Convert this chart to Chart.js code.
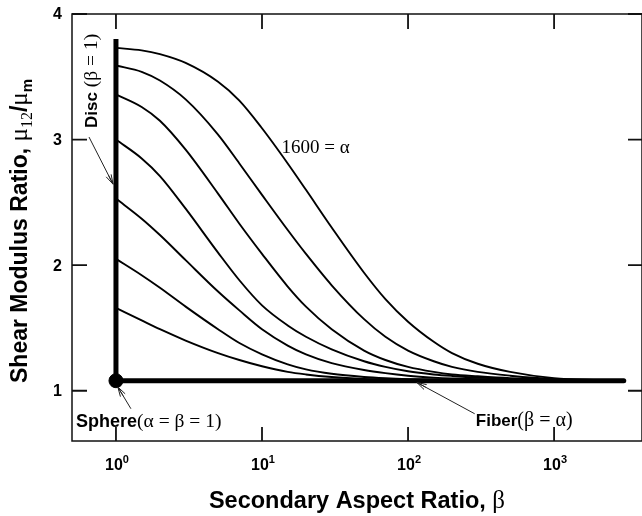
<!DOCTYPE html>
<html>
<head>
<meta charset="utf-8">
<script src="https://cdn.jsdelivr.net/npm/chart.js@4/dist/chart.umd.min.js"></script>
<style>
  html, body { margin: 0; padding: 0; background: #fff; overflow: hidden; width: 642px; height: 516px; }
  #wrap { position: relative; width: 650px; height: 516px; }
</style>
</head>
<body>
<div id="wrap"><canvas id="c" width="650" height="516"></canvas></div>
<script>
// Secondary aspect ratio (beta) sampling points shared by every curve
const betaGrid = [1, 1.5, 2, 3, 5, 7, 10, 15, 20, 30, 50, 70, 100, 150, 200, 300, 500, 1000, 2000, 3000];

// Shear modulus ratio mu12/mu_m, one curve per primary aspect ratio (top = 1600)
const curveA = [3.73, 3.71, 3.68, 3.61, 3.46, 3.31, 3.09, 2.81, 2.60, 2.30, 1.94, 1.73, 1.55, 1.39, 1.30, 1.215, 1.15, 1.10, 1.085, 1.08];
const curveB = [3.59, 3.54, 3.47, 3.32, 3.04, 2.81, 2.56, 2.28, 2.09, 1.84, 1.57, 1.43, 1.32, 1.235, 1.19, 1.15, 1.12, 1.093, 1.085, 1.08];
const curveC = [3.36, 3.26, 3.15, 2.92, 2.57, 2.33, 2.09, 1.83, 1.67, 1.49, 1.32, 1.245, 1.19, 1.15, 1.13, 1.115, 1.10, 1.09, 1.083, 1.08];
const curveD = [3.00, 2.85, 2.71, 2.45, 2.10, 1.88, 1.68, 1.52, 1.43, 1.33, 1.235, 1.19, 1.155, 1.13, 1.118, 1.105, 1.095, 1.087, 1.082, 1.08];
const curveE = [2.53, 2.37, 2.24, 2.04, 1.79, 1.64, 1.49, 1.36, 1.29, 1.22, 1.165, 1.14, 1.12, 1.105, 1.098, 1.092, 1.087, 1.083, 1.081, 1.08];
const curveF = [2.05, 1.92, 1.82, 1.67, 1.49, 1.38, 1.29, 1.21, 1.17, 1.135, 1.11, 1.10, 1.093, 1.088, 1.085, 1.083, 1.082, 1.081, 1.08, 1.08];
const curveG = [1.66, 1.56, 1.49, 1.40, 1.30, 1.245, 1.195, 1.15, 1.13, 1.11, 1.095, 1.09, 1.087, 1.085, 1.083, 1.082, 1.081, 1.08, 1.08, 1.08];

// Limiting cases
const sphereValue = 1.08;               // alpha = beta = 1
const discBeta = [1, 1];                // beta = 1 edge
const discValue = [1.08, 3.80];
const fiberBeta = [1, 3000];            // beta = alpha edge
const fiberValue = [1.08, 1.08];

// Axis ticks
const xTicks = [1, 10, 100, 1000];
const xTickExp = ['0', '1', '2', '3'];
const yTicks = [1, 2, 3, 4];

const BOLD = (s) => `bold ${s}px "Liberation Sans", Arial, Helvetica, sans-serif`;
const SERIF = (s) => `${s}px "Liberation Serif", "Times New Roman", serif`;

const pts = (xs, ys) => xs.map((x, i) => ({ x, y: ys[i] }));

const curveSet = [curveA, curveB, curveC, curveD, curveE, curveF, curveG].map((c) => ({
  data: pts(betaGrid, c),
  borderColor: '#000',
  borderWidth: 1.9,
  pointRadius: 0,
  fill: false,
  cubicInterpolationMode: 'monotone',
  order: 3
}));

function drawRuns(ctx, x, y, parts) {
  for (const p of parts) {
    ctx.font = p.font;
    ctx.fillText(p.t, x, y + (p.dy || 0));
    x += ctx.measureText(p.t).width;
  }
  return x;
}
function runsWidth(ctx, parts) {
  let w = 0;
  for (const p of parts) { ctx.font = p.font; w += ctx.measureText(p.t).width; }
  return w;
}
function arrow(ctx, x0, y0, x1, y1) {
  ctx.save();
  ctx.strokeStyle = '#222';
  ctx.lineWidth = 1;
  ctx.beginPath();
  ctx.moveTo(x0, y0);
  ctx.lineTo(x1, y1);
  const a = Math.atan2(y1 - y0, x1 - x0);
  const L = 10, s = 0.28;
  for (const d of [-s, 0, s]) {
    ctx.moveTo(x1, y1);
    ctx.lineTo(x1 - L * Math.cos(a + d), y1 - L * Math.sin(a + d));
  }
  ctx.stroke();
  ctx.restore();
}

const decorations = {
  id: 'decorations',
  afterDraw(chart) {
    const { ctx, chartArea: ca } = chart;
    const xs = chart.scales.x, ys = chart.scales.y;
    const X = (v) => xs.getPixelForValue(v), Y = (v) => ys.getPixelForValue(v);
    ctx.save();
    ctx.fillStyle = '#000';
    ctx.strokeStyle = '#111';

    // frame
    ctx.lineWidth = 1.5;
    ctx.strokeRect(ca.left, ca.top, ca.right - ca.left, ca.bottom - ca.top);

    // inward ticks
    ctx.lineWidth = 1.8;
    ctx.beginPath();
    for (const v of xTicks) {
      const px = X(v);
      ctx.moveTo(px, ca.bottom); ctx.lineTo(px, ca.bottom - 14);
      ctx.moveTo(px, ca.top); ctx.lineTo(px, ca.top + 15);
    }
    for (const v of yTicks) {
      const py = Y(v);
      ctx.moveTo(ca.left, py); ctx.lineTo(ca.left + 15, py);
      ctx.moveTo(ca.right, py); ctx.lineTo(ca.right - 14, py);
    }
    ctx.stroke();

    // y tick labels
    ctx.font = BOLD(16);
    ctx.textAlign = 'right';
    ctx.textBaseline = 'middle';
    for (const v of yTicks) ctx.fillText(String(v), ca.left - 10, Y(v) + 1);

    // x tick labels with superscript exponents
    ctx.textAlign = 'left';
    ctx.textBaseline = 'alphabetic';
    xTicks.forEach((v, i) => {
      const parts = [{ t: '10', font: BOLD(16) }, { t: xTickExp[i], font: BOLD(11), dy: -7 }];
      const w = runsWidth(ctx, parts);
      drawRuns(ctx, X(v) - w / 2 + 1, ca.bottom + 29, parts);
    });

    // x axis title
    {
      const parts = [{ t: 'Secondary Aspect Ratio, ', font: BOLD(23.5) }, { t: 'β', font: SERIF(25) }];
      const w = runsWidth(ctx, parts);
      drawRuns(ctx, (ca.left + ca.right) / 2 - w / 2, ca.bottom + 67, parts);
    }

    // y axis title (rotated)
    ctx.save();
    ctx.translate(27, 383);
    ctx.rotate(-Math.PI / 2);
    drawRuns(ctx, 0, 0, [
      { t: 'Shear Modulus Ratio, ', font: BOLD(23) },
      { t: 'μ', font: SERIF(25) },
      { t: '12', font: SERIF(16), dy: 5 },
      { t: '/', font: BOLD(23) },
      { t: 'μ', font: SERIF(25) },
      { t: 'm', font: BOLD(15), dy: 5 }
    ]);
    ctx.restore();

    // curve label
    drawRuns(ctx, X(13.6), Y(2.894), [{ t: '1600 = α', font: SERIF(19) }]);

    // Disc label (rotated) and arrow
    ctx.save();
    ctx.translate(X(0.742), Y(3.093));
    ctx.rotate(-Math.PI / 2);
    drawRuns(ctx, 0, 0, [{ t: 'Disc ', font: BOLD(17) }, { t: '(β = 1)', font: SERIF(19.5) }]);
    ctx.restore();
    arrow(ctx, X(0.654), Y(3.02), X(0.955), Y(2.645));

    // Sphere label and arrow
    drawRuns(ctx, X(0.533), Y(0.714), [{ t: 'Sphere', font: BOLD(18) }, { t: '(α = β = 1)', font: SERIF(19.5) }]);
    arrow(ctx, X(1.266), Y(0.857), X(1.03), Y(1.03));

    // Fiber label and arrow
    drawRuns(ctx, X(291), Y(0.72), [{ t: 'Fiber', font: BOLD(17) }, { t: '(β = α)', font: SERIF(20) }]);
    arrow(ctx, X(286), Y(0.817), X(115), Y(1.066));

    ctx.restore();
  }
};

new Chart(document.getElementById('c'), {
  type: 'line',
  data: {
    datasets: [
      { data: pts([1], [sphereValue]), showLine: false, pointRadius: 7, pointBackgroundColor: '#000', pointBorderColor: '#000', order: 0 },
      { data: pts(discBeta, discValue), borderColor: '#000', borderWidth: 5, pointRadius: 0, borderCapStyle: 'butt', order: 1 },
      { data: pts(fiberBeta, fiberValue), borderColor: '#000', borderWidth: 5, pointRadius: 0, borderCapStyle: 'round', order: 1 },
      ...curveSet
    ]
  },
  options: {
    responsive: false,
    devicePixelRatio: 1,
    animation: false,
    layout: { padding: { left: 72, top: 14, right: 6, bottom: 75 } },
    plugins: { legend: { display: false }, tooltip: { enabled: false } },
    scales: {
      x: { type: 'logarithmic', min: 0.5, max: 4000, display: false },
      y: { type: 'linear', min: 0.6, max: 4, display: false }
    }
  },
  plugins: [decorations]
});
</script>
</body>
</html>
